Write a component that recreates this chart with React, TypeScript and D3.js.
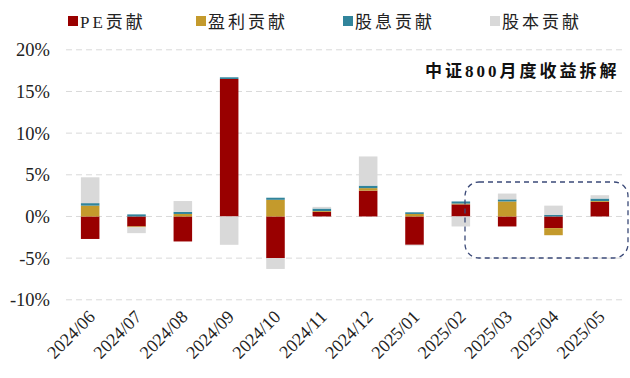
import React from "react";
import * as d3 from "d3";

const categories = ["2024/06","2024/07","2024/08","2024/09","2024/10","2024/11","2024/12","2025/01","2025/02","2025/03","2025/04","2025/05"];
const seriesNames = ["PE贡献","盈利贡献","股息贡献","股本贡献"];
const peValues = [-2.7, -1.2, -3.0, 16.5, -5.0, 0.55, 3.1, -3.4, 1.45, -1.2, -1.4, 1.75];
const earningsValues = [1.3, -0.1, 0.3, 0, 2.0, 0.1, 0.3, 0.3, 0.1, 1.8, -0.85, 0.1];
const dividendValues = [0.3, 0.25, 0.25, 0.2, 0.25, 0.3, 0.3, 0.2, 0.25, 0.25, 0.2, 0.3];
const shareValues = [3.1, -0.7, 1.3, -3.4, -1.3, 0.2, 3.5, -0.1, -1.2, 0.7, 1.1, 0.4];
const yTicks = [20, 15, 10, 5, 0, -5, -10];
const title = "中证800月度收益拆解";
const colors = ["#990000", "#C49A2C", "#31849B", "#D9D9D9"];

const W = 630, H = 378;
const FONT = "'Liberation Serif', 'Times New Roman', 'Noto Sans CJK SC', serif";

export default function App() {
  const table = categories.map((c, i) => ({
    cat: c,
    s0: peValues[i],
    s1: earningsValues[i],
    s2: dividendValues[i],
    s3: shareValues[i],
  }));
  const keys = ["s0", "s1", "s2", "s3"];
  const stacked = d3.stack<any>().keys(keys).offset(d3.stackOffsetDiverging)(table);

  const x = d3.scaleBand().domain(categories).range([67, 623]).paddingInner(0.6).paddingOuter(0.3);
  const y = d3.scaleLinear().domain([-10, 20]).range([299.8, 49.8]);

  const legendX = [68, 196, 343, 490];

  return (
    <svg width={W} height={H} style={{ position: "absolute", left: 0, top: 0, background: "#fff" }} fontFamily={FONT}>
      {yTicks.map((t) => (
        <line key={"g" + t} x1={66} x2={622} y1={y(t)} y2={y(t)} stroke="#D9D9D9" strokeWidth={1} strokeDasharray="6,4" />
      ))}
      {yTicks.map((t) => (
        <text key={"yl" + t} x={50} y={y(t)} dy="0.35em" textAnchor="end" fontSize={18.5} fill="#222">
          {t + "%"}
        </text>
      ))}
      {stacked.map((layer, si) => (
        <g key={layer.key} fill={colors[si]}>
          {layer.map((d, i) => {
            const y0 = y(Math.max(d[0], d[1]));
            const y1 = y(Math.min(d[0], d[1]));
            if (y1 - y0 <= 0) return null;
            return <rect key={i} x={x(categories[i])} width={x.bandwidth()} y={y0} height={y1 - y0} />;
          })}
        </g>
      ))}
      {categories.map((c) => {
        const cx = (x(c) as number) + x.bandwidth() / 2;
        return (
          <text key={"xl" + c} transform={`translate(${cx + 6},${318}) rotate(-45)`} textAnchor="end" fontSize={18} fill="#222">
            {c}
          </text>
        );
      })}
      <rect x={465} y={182} width={163} height={76} rx={14} ry={14} fill="none" stroke="#3B4A78" strokeWidth={1.3} strokeDasharray="5,4" />
      <text x={425} y={77} fontSize={17} fontWeight="bold" letterSpacing={3} fill="#111">{title}</text>
      {seriesNames.map((n, i) => (
        <g key={n}>
          <rect x={legendX[i]} y={16} width={10} height={10} fill={colors[i]} />
          <text x={legendX[i] + 12} y={28} fontSize={17} letterSpacing={3} fill="#222">{n}</text>
        </g>
      ))}
    </svg>
  );
}
